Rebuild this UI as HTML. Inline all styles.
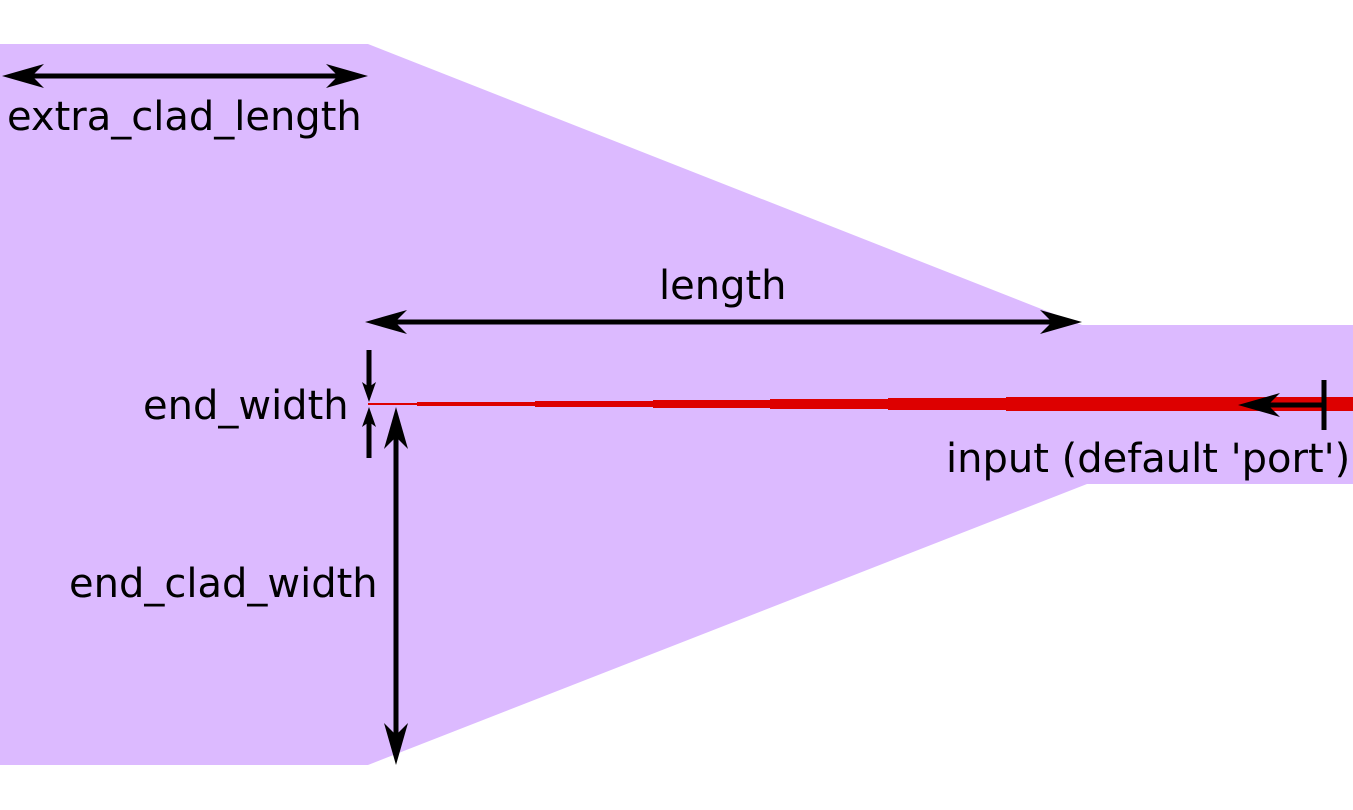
<!DOCTYPE html>
<html><head><meta charset="utf-8"><style>
html,body{margin:0;padding:0;background:#fff;width:1353px;height:810px;overflow:hidden}
text{font-family:"DejaVu Sans","Liberation Sans",sans-serif;font-size:40px;fill:#000}
</style></head><body>
<svg width="1353" height="810" viewBox="0 0 1353 810">
<polygon fill="#dcbaff" points="0,44 368,44 1082,325 1353,325 1353,484 1087,484 368,765 0,765"/>
<g fill="#dd0000">
<rect x="368" y="403" width="50" height="2"/>
<rect x="417" y="402" width="119" height="4"/>
<rect x="535" y="401" width="119" height="6"/>
<rect x="653" y="400" width="118" height="8"/>
<rect x="770" y="399" width="119" height="10"/>
<rect x="888" y="398" width="119" height="12"/>
<rect x="1006" y="397" width="347" height="14"/>
</g>
<g>
<line x1="20" y1="76" x2="350" y2="76" stroke="#000" stroke-width="5"/>
<path d="M2,76 L44,64 L32,76 L44,88 Z"/>
<path d="M368,76 L326,64 L338,76 L326,88 Z"/>
</g>
<text x="7" y="130">extra_clad_length</text>
<g>
<line x1="380" y1="322" x2="1065" y2="322" stroke="#000" stroke-width="5"/>
<path d="M365,322 L407,310 L395,322 L407,334 Z"/>
<path d="M1082,322 L1040,310 L1052,322 L1040,334 Z"/>
</g>
<text x="659" y="299">length</text>
<g>
<line x1="369" y1="350" x2="369" y2="390" stroke="#000" stroke-width="5"/>
<path d="M369,402 L362,382 L369,387 L376,382 Z"/>
<line x1="369" y1="458" x2="369" y2="420" stroke="#000" stroke-width="5"/>
<path d="M369,407 L362,427 L369,422 L376,427 Z"/>
</g>
<text x="143" y="419">end_width</text>
<g>
<line x1="396" y1="430" x2="396" y2="745" stroke="#000" stroke-width="5"/>
<path d="M396,407 L384,449 L396,437 L408,449 Z"/>
<path d="M396,765 L384,723 L396,735 L408,723 Z"/>
</g>
<text x="69" y="597">end_clad_width</text>
<g>
<line x1="1324" y1="380" x2="1324" y2="430" stroke="#000" stroke-width="5"/>
<line x1="1324" y1="405" x2="1255" y2="405" stroke="#000" stroke-width="5"/>
<path d="M1238,405 L1280,393 L1268,405 L1280,417 Z"/>
</g>
<text x="946" y="472">input (default 'port')</text>
</svg>
</body></html>
